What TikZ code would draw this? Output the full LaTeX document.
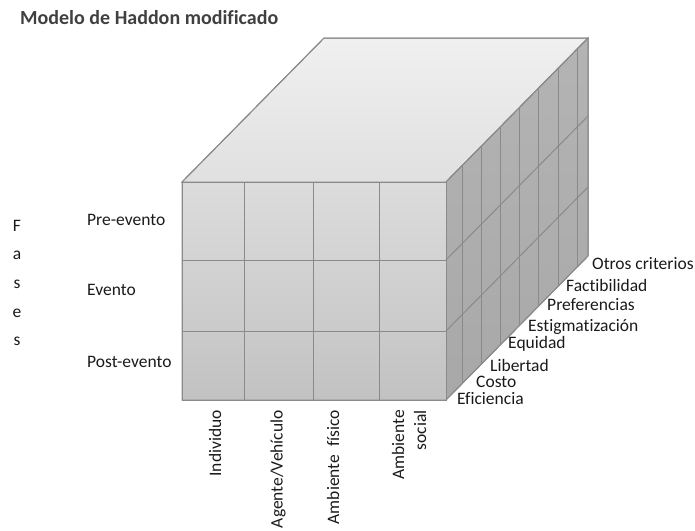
\documentclass[tikz,border=0pt]{standalone}
\usepackage{fontspec}
\setmainfont[Ligatures=NoCommon]{Carlito}
\definecolor{edgec}{HTML}{8A8A8A}
\definecolor{frontTop}{HTML}{DCDCDC}
\definecolor{frontBot}{HTML}{C2C2C2}
\definecolor{sideTop}{HTML}{B4B4B4}
\definecolor{sideBot}{HTML}{A8A8A8}
\definecolor{topBack}{HTML}{F0F0F0}
\definecolor{topFront}{HTML}{E0E0E0}
\definecolor{titlec}{HTML}{404040}
\definecolor{textc}{HTML}{1A1A1A}
\tikzset{
  gridline/.style={draw=edgec, line width=1pt},
  lbl/.style={inner sep=0pt, font=\fontsize{17.5}{21}\selectfont, text=textc},
  crit/.style={lbl, anchor=west},
  axislbl/.style={lbl, rotate=90, anchor=east, align=right},
}
\begin{document}
\begin{tikzpicture}[x=1pt,y=-1pt]
\useasboundingbox (0,0) rectangle (695,530);
% corners
\coordinate (FTL) at (182,182);
\coordinate (FTR) at (446,182);
\coordinate (FBL) at (182,400);
\coordinate (FBR) at (446,400);
\coordinate (BTL) at (324,38);
\coordinate (BTR) at (588,38);
\coordinate (BBR) at (588,256);
% faces
\shade[top color=topBack, bottom color=topFront, draw=edgec, line width=1pt]
  (FTL) -- (BTL) -- (BTR) -- (FTR) -- cycle;
\shade[top color=sideTop, bottom color=sideBot, draw=edgec, line width=1pt]
  (FTR) -- (BTR) -- (BBR) -- (FBR) -- cycle;
\shade[top color=frontTop, bottom color=frontBot, draw=edgec, line width=1pt]
  (FTL) rectangle (FBR);
% front grid
\foreach \x in {244,313,379} \draw[gridline] (\x,182) -- (\x,400);
\foreach \y in {260,331} \draw[gridline] (182,\y) -- (446,\y);
% side grid
\foreach \d in {16,35,54,73,92,112,131}
  \draw[gridline] ({446+\d},{182-\d*1.014}) -- ({446+\d},{400-\d*1.014});
\foreach \y in {260,331} \draw[gridline] (446,\y) -- (588,{\y-144});
% outline again
\draw[gridline] (FTL) -- (BTL) -- (BTR) -- (BBR) -- (FBR) -- (FBL) -- cycle;
\draw[gridline] (FTR) -- (BTR);
\draw[gridline] (FTL) -- (FTR) -- (FBR);
% title
\node[inner sep=0pt, anchor=west, text=titlec, font=\fontsize{20}{24}\selectfont\bfseries] (title) at (20,18) {Modelo de Haddon modificado};
% Fases
\node[lbl, align=center, font=\fontsize{17.5}{28.7}\selectfont] (fases) at (17,283) {F\\a\\s\\e\\s};
% phases
\node[lbl, anchor=west] (pre) at (87,220) {Pre-evento};
\node[lbl, anchor=west] (ev) at (87,290) {Evento};
\node[lbl, anchor=west] (post) at (87,362) {Post-evento};
% criteria
\node[crit] (c8) at (592,264) {Otros criterios};
\node[crit] (c7) at (566,285) {Factibilidad};
\node[crit] (c6) at (547,305) {Preferencias};
\node[crit] (c5) at (528,327) {Estigmatización};
\node[crit] (c4) at (508,344) {Equidad};
\node[crit] (c3) at (490,365) {Libertad};
\node[crit] (c2) at (476,381.5) {Costo};
\node[crit] (c1) at (457,399) {Eficiencia};
% factors
\node[axislbl] (f1) at (215,410) {Individuo};
\node[axislbl] (f2) at (278,410) {Agente/Vehículo};
\node[axislbl] (f3) at (333,410) {Ambiente\ \ físico};
\node[axislbl, font=\fontsize{17.5}{22}\selectfont] (f4) at (409,410) {Ambiente\\social};
\end{tikzpicture}
\end{document}
